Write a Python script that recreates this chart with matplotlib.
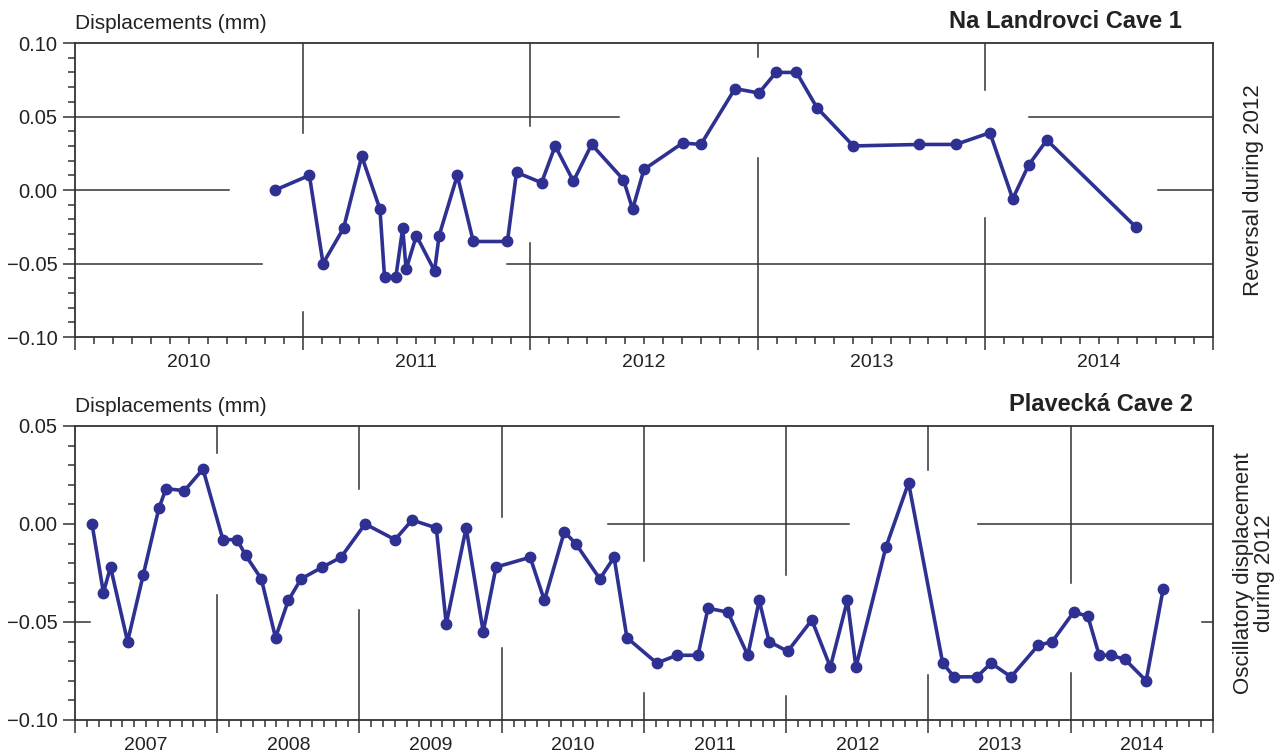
import numpy as np
import matplotlib
matplotlib.use("Agg")
from matplotlib import pyplot as plt
from matplotlib.ticker import MultipleLocator
import matplotlib.transforms as mtransforms

plt.rcParams['font.family'] = ['Liberation Sans', 'DejaVu Sans']

# Data: decimal year and displacement (mm)
cave1_t = [2010.88, 2011.03, 2011.09, 2011.18, 2011.26, 2011.34, 2011.36, 2011.41,
           2011.44, 2011.455, 2011.50, 2011.58, 2011.60, 2011.68, 2011.75, 2011.90,
           2011.94, 2012.05, 2012.11, 2012.19, 2012.27, 2012.41, 2012.45, 2012.50,
           2012.67, 2012.75, 2012.90, 2013.005, 2013.08, 2013.17, 2013.26, 2013.42,
           2013.71, 2013.87, 2014.02, 2014.12, 2014.19, 2014.27, 2014.66]
cave1_d = [0.000, 0.010, -0.050, -0.026, 0.023, -0.013, -0.059, -0.059,
           -0.026, -0.054, -0.031, -0.055, -0.031, 0.010, -0.035, -0.035,
           0.012, 0.005, 0.030, 0.006, 0.031, 0.007, -0.013, 0.014,
           0.032, 0.031, 0.069, 0.066, 0.080, 0.080, 0.056, 0.030,
           0.031, 0.031, 0.039, -0.006, 0.017, 0.034, -0.025]

cave2_t = [2007.12, 2007.20, 2007.25, 2007.37, 2007.48, 2007.59, 2007.64, 2007.77,
           2007.90, 2008.04, 2008.14, 2008.20, 2008.31, 2008.41, 2008.50, 2008.59,
           2008.74, 2008.87, 2009.04, 2009.25, 2009.37, 2009.54, 2009.61, 2009.75,
           2009.87, 2009.96, 2010.20, 2010.30, 2010.44, 2010.52, 2010.69, 2010.79,
           2010.88, 2011.09, 2011.23, 2011.38, 2011.45, 2011.59, 2011.73, 2011.81,
           2011.88, 2012.01, 2012.18, 2012.31, 2012.43, 2012.49, 2012.70, 2012.86,
           2013.10, 2013.18, 2013.34, 2013.44, 2013.58, 2013.77, 2013.87, 2014.02,
           2014.12, 2014.20, 2014.28, 2014.38, 2014.53, 2014.65]
cave2_d = [0.000, -0.035, -0.022, -0.060, -0.026, 0.008, 0.018, 0.017,
           0.028, -0.008, -0.008, -0.016, -0.028, -0.058, -0.039, -0.028,
           -0.022, -0.017, 0.000, -0.008, 0.002, -0.002, -0.051, -0.002,
           -0.055, -0.022, -0.017, -0.039, -0.004, -0.010, -0.028, -0.017,
           -0.058, -0.071, -0.067, -0.067, -0.043, -0.045, -0.067, -0.039,
           -0.060, -0.065, -0.049, -0.073, -0.039, -0.073, -0.012, 0.021,
           -0.071, -0.078, -0.078, -0.071, -0.078, -0.062, -0.060, -0.045,
           -0.047, -0.067, -0.067, -0.069, -0.080, -0.033]

# broken grid segments (value, start, end)
cave1_hgrid = [(0.05, 2010.0, 2012.39), (0.05, 2014.19, 2015.0),
               (0.00, 2010.0, 2010.675), (0.00, 2014.76, 2015.0),
               (-0.05, 2010.0, 2010.82), (-0.05, 2011.90, 2015.0)]
cave1_vgrid = [(2011, 0.039, 0.10), (2011, -0.10, -0.083),
               (2012, 0.0435, 0.10), (2012, -0.10, -0.036),
               (2013, 0.0907, 0.10), (2013, -0.10, 0.0216),
               (2014, 0.068, 0.10), (2014, -0.10, -0.019)]
cave2_hgrid = [(0.00, 2010.75, 2012.44), (0.00, 2013.35, 2015.0),
               (-0.05, 2007.0, 2007.105), (-0.05, 2014.925, 2015.0)]
cave2_vgrid = [(2008, 0.036, 0.05), (2008, -0.10, -0.036),
               (2009, 0.0177, 0.05), (2009, -0.10, -0.0439),
               (2010, 0.0037, 0.05), (2010, -0.10, -0.0634),
               (2011, -0.019, 0.05), (2011, -0.10, -0.086),
               (2012, -0.026, 0.05), (2012, -0.10, -0.0878),
               (2013, 0.0276, 0.05), (2013, -0.10, -0.077),
               (2014, -0.030, 0.05), (2014, -0.10, -0.076)]

line_col = '#2e3192'
grid_col = '#333333'
text_col = '#222222'

fig = plt.figure(figsize=(12.79, 7.55), dpi=100)
ax1 = fig.add_axes([0.0586, 0.5536, 0.8898, 0.3894])
ax2 = fig.add_axes([0.0586, 0.0464, 0.8898, 0.3894])


def setup(ax, x0, x1, y0, y1, hgrid, vgrid, title, title_x, side):
    ax.set_xlim(x0, x1)
    ax.set_ylim(y0, y1)
    for v, a, b in hgrid:
        ax.plot([a, b], [v, v], color=grid_col, lw=1.1, zorder=1)
    for v, a, b in vgrid:
        ax.plot([v, v], [a, b], color=grid_col, lw=1.1, zorder=1)
    ax.xaxis.set_major_locator(MultipleLocator(1))
    ax.xaxis.set_minor_locator(MultipleLocator(1 / 12))
    ax.yaxis.set_major_locator(MultipleLocator(0.05))
    ax.yaxis.set_minor_locator(MultipleLocator(0.01))
    ax.set_xticklabels([])
    ax.yaxis.set_major_formatter(lambda v, p: f"{v:.2f}".replace('-', '\u2212'))
    ax.tick_params(axis='both', which='major', direction='out', length=9,
                   width=1.1, color=grid_col, labelsize=14.5, labelcolor=text_col)
    ax.tick_params(axis='both', which='minor', direction='out', length=5,
                   width=1.1, color=grid_col)
    for s in ax.spines.values():
        s.set_linewidth(1.3)
        s.set_color(grid_col)
    trans = mtransforms.blended_transform_factory(ax.transData, ax.transAxes)
    for yr in range(int(x0), int(x1)):
        ax.text(yr + 0.5, -0.058, str(yr), transform=trans, ha='center',
                va='top', fontsize=14, color=text_col)
    ax.text(0.0, 1.035, 'Displacements (mm)', transform=ax.transAxes,
            ha='left', va='bottom', fontsize=15, color=text_col)
    ax.text(title_x, 1.035, title, transform=ax.transAxes, ha='right',
            va='bottom', fontsize=17, fontweight='bold', color=text_col)
    ax.text(1.036, 0.5, side, transform=ax.transAxes, ha='center',
            va='center', rotation=90, fontsize=16, color=text_col,
            multialignment='center', linespacing=1.0)


setup(ax1, 2010, 2015, -0.10, 0.10, cave1_hgrid, cave1_vgrid,
      'Na Landrovci Cave 1', 0.973, 'Reversal during 2012')
setup(ax2, 2007, 2015, -0.10, 0.05, cave2_hgrid, cave2_vgrid,
      'Plavecká Cave 2', 0.982, 'Oscillatory displacement\nduring 2012')

ax1.plot(cave1_t, cave1_d, color=line_col, lw=2.6, marker='o', ms=7.5, zorder=3)
ax2.plot(cave2_t, cave2_d, color=line_col, lw=2.6, marker='o', ms=7.5, zorder=3)

fig.savefig('out.png', dpi=100)
